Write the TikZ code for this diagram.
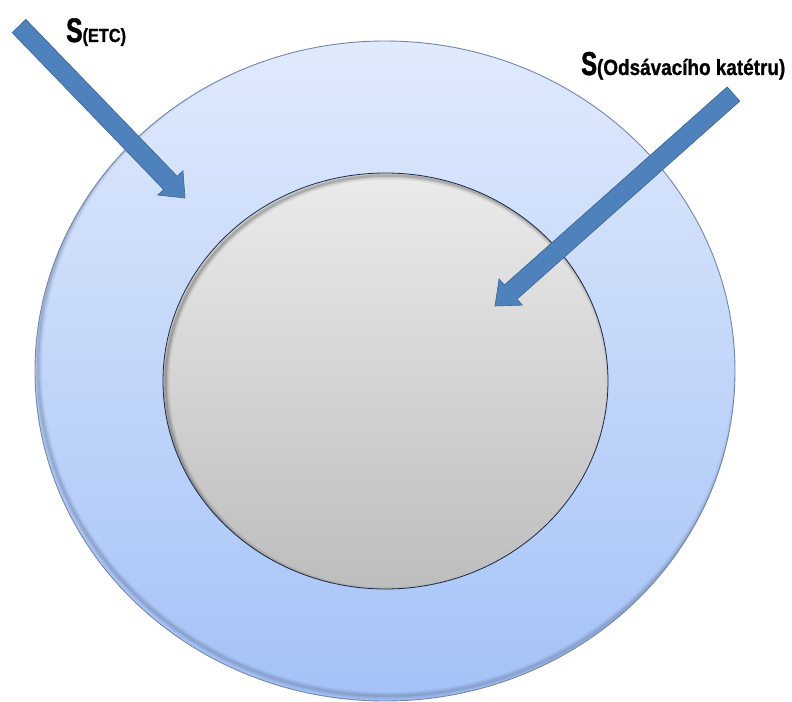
\documentclass[tikz,border=0pt]{standalone}
\usepackage{fontspec}
\usetikzlibrary{calc}
\newfontfamily\Sfont[FakeStretch=0.72,FakeBold=1.5]{Liberation Sans Bold}
\newfontfamily\subfont[FakeStretch=0.86,FakeBold=1]{Liberation Sans Bold}
\definecolor{outertop}{HTML}{E0EAFC}
\definecolor{outerbot}{HTML}{A4C2F7}
\definecolor{outerline}{HTML}{7186AE}
\definecolor{outershadow}{HTML}{5F6F92}
\definecolor{innertop}{HTML}{EBEBEB}
\definecolor{innerbot}{HTML}{BDBDBD}
\definecolor{innerline}{HTML}{1C2A48}
\definecolor{arrowfill}{HTML}{4F81BD}
\definecolor{arrowline}{HTML}{3A6594}
\tikzset{
  outerdisk/.style={top color=outertop, bottom color=outerbot},
  outerrim/.style={draw=outerline, line width=0.9bp},
  innerdisk/.style={top color=innertop, bottom color=innerbot},
  innerrim/.style={draw=innerline, line width=0.8bp},
  fatarrow/.style={fill=arrowfill, draw=arrowline, line width=0.6bp, line join=miter},
  lbl/.style={anchor=base west, inner sep=0pt, text=black}
}
% #1 tail, #2 tip
\newcommand{\fatarrowdraw}[2]{%
  \coordinate (H) at ($(#2)!21bp!(#1)$);
  \path[fatarrow]
    ($(#1)!9.5bp!90:(#2)$) -- ($(H)!9.5bp!-90:(#1)$) -- ($(H)!17.5bp!-90:(#1)$) -- (#2)
    -- ($(H)!17.5bp!90:(#1)$) -- ($(H)!9.5bp!90:(#1)$) -- ($(#1)!9.5bp!-90:(#2)$) -- cycle;
}
\begin{document}
\begin{tikzpicture}[x=1bp, y=-1bp]
  \useasboundingbox (0,0) rectangle (792,702);
  \fill[white] (0,0) rectangle (792,702);
  \begin{scope}
    \clip (0,0) rectangle (792,702);
    \path[outerdisk] (385,371) ellipse [x radius=350, y radius=330];
    \begin{scope}
      \clip (385,371) ellipse [x radius=350, y radius=330];
      \foreach \w/\o in {8/0.10,5/0.14,2.5/0.2}
        \draw[outershadow, opacity=\o, line width=\w bp] (388,366) ellipse [x radius=350, y radius=330];
    \end{scope}
    \path[outerrim] (385,371) ellipse [x radius=350, y radius=330];
  \end{scope}
  \path[innerdisk] (385.5,381) ellipse [x radius=222.5, y radius=208];
  \begin{scope}
    \clip (385.5,381) ellipse [x radius=222.5, y radius=208];
    \foreach \w/\o in {8/0.06,5/0.09,2.5/0.14}
      \draw[black, opacity=\o, line width=\w bp] (388,383.5) ellipse [x radius=222.5, y radius=208];
  \end{scope}
  \path[innerrim] (385.5,381) ellipse [x radius=222.5, y radius=208];
  \coordinate (etcTail) at (19,26);
  \coordinate (etcTip) at (185,198);
  \coordinate (catTail) at (733.5,94);
  \coordinate (catTip) at (495,306);
  \fatarrowdraw{etcTail}{etcTip}
  \fatarrowdraw{catTail}{catTip}
  \node[lbl] (etc) at (66,42) {\fontsize{34bp}{36bp}\Sfont S\fontsize{19bp}{20bp}\subfont (ETC)};
  \node[lbl] (cat) at (581,75) {\fontsize{33bp}{35bp}\Sfont S\fontsize{22bp}{24bp}\subfont (Odsávacího katétru)};
\end{tikzpicture}
\end{document}
